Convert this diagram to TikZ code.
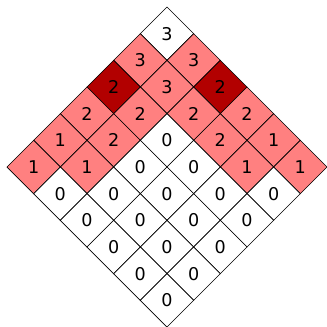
\documentclass[tikz,border=0pt]{standalone}
\usepackage{fontspec}
\setmainfont{DejaVu Sans}
\usetikzlibrary{calc}
\begin{document}
\begin{tikzpicture}[x=0.8cm, y=0.8cm,
  cell/.style={draw, line width=0.6pt},
  plain/.style={fill=white},
  hot/.style={fill=red!50},
  peak/.style={fill=red!70!black},
  num/.style={font=\fontsize{15}{18}\selectfont, inner sep=1pt}]
\useasboundingbox (-6.2625,-11) rectangle (6,1.2625);
% cells (i,j) of the 6x6 grid, turned by 45 degrees
\foreach \i/\j/\v/\s in {0/0/3/plain, 0/1/3/hot, 0/2/2/peak, 0/3/2/hot, 0/4/1/hot, 0/5/1/hot,
                         1/0/3/hot, 1/1/3/hot, 1/2/2/hot, 1/3/2/hot, 1/4/1/hot, 1/5/0/plain,
                         2/0/2/peak, 2/1/2/hot, 2/2/0/plain, 2/3/0/plain, 2/4/0/plain, 2/5/0/plain,
                         3/0/2/hot, 3/1/2/hot, 3/2/0/plain, 3/3/0/plain, 3/4/0/plain, 3/5/0/plain,
                         4/0/1/hot, 4/1/1/hot, 4/2/0/plain, 4/3/0/plain, 4/4/0/plain, 4/5/0/plain,
                         5/0/1/hot, 5/1/0/plain, 5/2/0/plain, 5/3/0/plain, 5/4/0/plain, 5/5/0/plain} {
  \path[cell, \s] ({\i-\j},{1-\i-\j}) -- ++(1,-1) -- ++(-1,-1) -- ++(-1,1) -- cycle;
  \node[num] (c\i\j) at ({\i-\j},{-\i-\j}) {\v};
}
\end{tikzpicture}
\end{document}
